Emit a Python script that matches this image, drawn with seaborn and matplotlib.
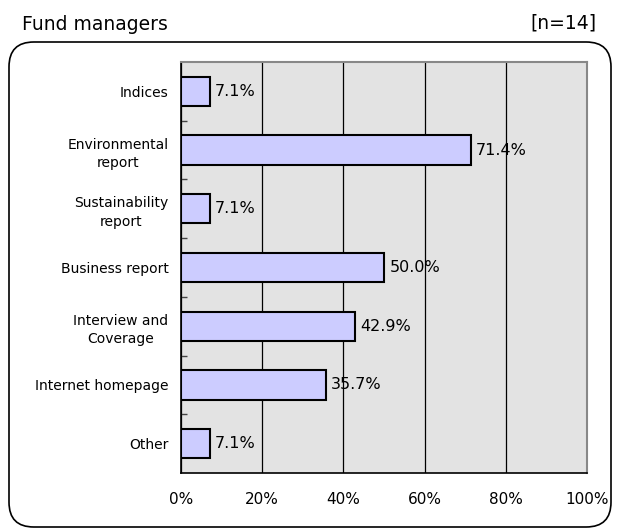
import numpy as np
import pandas as pd
import matplotlib
matplotlib.use("Agg")
import matplotlib.pyplot as plt
from matplotlib.patches import FancyBboxPatch
import seaborn as sns

categories = ["Indices", "Environmental\nreport", "Sustainability\nreport",
              "Business report", "Interview and\nCoverage", "Internet homepage", "Other"]
values = [7.1, 71.4, 7.1, 50.0, 42.9, 35.7, 7.1]
xticks = [0, 20, 40, 60, 80, 100]

sns.set_style("white")
plt.rcParams["font.family"] = ["DejaVu Sans"]
plt.rcParams.update({"text.color": "black", "xtick.color": "black", "ytick.color": "black"})

df = pd.DataFrame({"cat": categories, "val": values})

fig = plt.figure(figsize=(6.2, 5.32), dpi=100)
ax = fig.add_axes([181/620, 1 - 473/532, (587 - 181)/620, (473 - 62)/532])

sns.barplot(data=df, x="val", y="cat", orient="h", color="#ccccff",
            edgecolor="black", linewidth=1.5, width=0.5, saturation=1, ax=ax)

ax.set_facecolor("#e3e3e3")
ax.set_xlim(0, 100)
ax.set_ylim(len(categories) - 0.5, -0.5)
ax.set_xticks(xticks)
ax.set_xticklabels([f"{t}%" for t in xticks], fontsize=11)
ax.tick_params(axis="x", length=0, pad=14)
ax.set_yticks(range(len(categories)))
ax.set_yticklabels(categories, fontsize=10, linespacing=1.4)
for lbl in ax.get_yticklabels():
    lbl.set_multialignment("center")
ax.tick_params(axis="y", which="major", length=0, pad=9)
ax.set_yticks(np.arange(0.5, len(categories) - 1, 1), minor=True)
ax.tick_params(axis="y", which="minor", left=True, direction="in", length=4,
               width=1, color="#444444")
ax.set_xlabel(""); ax.set_ylabel("")
ax.xaxis.grid(True, color="black", lw=0.9)
ax.set_axisbelow(True)
for s in ["left", "bottom"]:
    ax.spines[s].set_color("black"); ax.spines[s].set_linewidth(1.2)
for s in ["top", "right"]:
    ax.spines[s].set_color("#888888"); ax.spines[s].set_linewidth(1.5)

for i, v in enumerate(values):
    ax.text(v + 1.3, i, f"{v:.1f}%", va="center", ha="left", fontsize=11.5)

fig.text(22/620, 1 - 24/532, "Fund managers", fontsize=13.5, va="center", ha="left")
fig.text(597/620, 1 - 23/532, "[n=14]", fontsize=13.5, va="center", ha="right")

box = FancyBboxPatch((9/620, 1 - 527/532), 602/620, 485/532,
                     boxstyle="round,pad=0,rounding_size=0.04", transform=fig.transFigure,
                     facecolor="none", edgecolor="black", lw=1.2, mutation_aspect=620/532)
fig.patches.append(box)

fig.savefig("out.png", dpi=100)
